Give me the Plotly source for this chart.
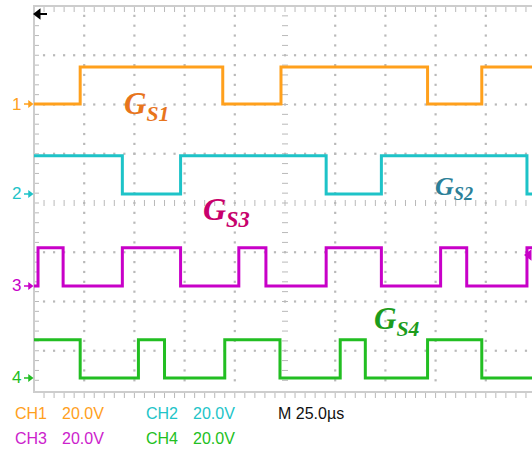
import plotly.graph_objects as go

# Scope settings
US_PER_DIV = 25.0        # horizontal scale, µs per division
V_PER_DIV = 20.0         # vertical scale of every channel, V per division

# Gate signals: edge times (µs from left edge of screen) and the level (V) held after each edge
ch1_t = [0, 23, 94, 123, 196, 223, 250]
ch1_v = [0, 15, 0, 15, 0, 15, 15]
ch2_t = [0, 44, 73, 145.5, 173, 245.5, 250]
ch2_v = [15.5, 0, 15.5, 0, 15.5, 0, 0]
ch3_t = [0, 2, 14.5, 44, 73, 102, 115.5, 145.5, 173, 202.5, 215.5, 245.5, 250]
ch3_v = [0, 15.5, 0, 15.5, 0, 15.5, 0, 15.5, 0, 15.5, 0, 15.5, 15.5]
ch4_t = [0, 23, 52, 65, 95, 122.5, 152.5, 165, 196, 223, 250]
ch4_v = [15.5, 0, 15.5, 0, 15.5, 0, 15.5, 0, 15.5, 0, 0]

# Ground reference position of each channel, in divisions from screen centre
offset_div = [2.01, 0.183, -1.685, -3.553]

channel_names = ["CH1", "CH2", "CH3", "CH4"]
channel_scale = ["20.0V", "20.0V", "20.0V", "20.0V"]
timebase_label = "M 25.0µs"
gate_labels = ["G<sub>S1</sub>", "G<sub>S2</sub>", "G<sub>S3</sub>", "G<sub>S4</sub>"]

trace_colors = ["#FFA01C", "#1EC3C8", "#C800C8", "#22BE22"]
text_colors = ["#FFA01C", "#22C4C8", "#CC22CC", "#22C022"]
gate_colors = ["#E8751C", "#2B7F98", "#C8006C", "#1C9C1C"]

# Screen geometry (pixels)
W, H = 532, 456
X0, DX = 34.0, 50.2      # left edge of graticule, px per division
Y_TOP, DY = 6.0, 49.25   # top edge of graticule, px per division
Y_CEN = Y_TOP + 4 * DY
Y_BOT = 392.0


def xd(px):
    return (px - X0) / DX * US_PER_DIV


def yd(py):
    return (Y_CEN - py) / DY


fig = go.Figure()

GRID = "#B9B9B9"
BORDER = "#CDCDCD"

# dotted graticule
dx, dy = [], []
for k in range(1, 10):
    if k == 5:
        continue
    px = X0 + k * DX
    j = 1
    while Y_TOP + j * DY / 5 < Y_BOT - 2:
        dx.append(xd(px)); dy.append(yd(Y_TOP + j * DY / 5)); j += 1
for r in range(1, 8):
    if r == 4:
        continue
    py = Y_TOP + r * DY
    i = 1
    while X0 + i * DX / 5 < W:
        dx.append(xd(X0 + i * DX / 5)); dy.append(yd(py)); i += 1
fig.add_trace(go.Scatter(x=dx, y=dy, mode="markers",
                         marker=dict(size=2.2, color=GRID, symbol="square"),
                         hoverinfo="skip", showlegend=False))

# centre cross minor ticks and border ticks
tx, ty = [], []
cx = X0 + 5 * DX
j = 1
while Y_TOP + j * DY / 5 < Y_BOT - 2:
    py = Y_TOP + j * DY / 5
    tx += [xd(cx - 3), xd(cx + 3), None]; ty += [yd(py), yd(py), None]
    tx += [xd(X0), xd(X0 + 5), None]; ty += [yd(py), yd(py), None]
    j += 1
i = 1
while X0 + i * DX / 5 < W:
    px = X0 + i * DX / 5
    tx += [xd(px), xd(px), None]; ty += [yd(Y_CEN - 3), yd(Y_CEN + 3), None]
    tx += [xd(px), xd(px), None]; ty += [yd(Y_TOP), yd(Y_TOP + 6), None]
    tx += [xd(px), xd(px), None]; ty += [yd(Y_BOT), yd(Y_BOT + 6), None]
    i += 1
fig.add_trace(go.Scatter(x=tx, y=ty, mode="lines", line=dict(color=GRID, width=1),
                         hoverinfo="skip", showlegend=False))

# graticule border
fig.add_trace(go.Scatter(
    x=[xd(W), xd(X0), xd(X0), xd(W)],
    y=[yd(Y_TOP), yd(Y_TOP), yd(Y_BOT), yd(Y_BOT)],
    mode="lines", line=dict(color=BORDER, width=2),
    hoverinfo="skip", showlegend=False))

# channel waveforms
for t, v, off, col in zip([ch1_t, ch2_t, ch3_t, ch4_t],
                          [ch1_v, ch2_v, ch3_v, ch4_v],
                          offset_div, trace_colors):
    fig.add_trace(go.Scatter(
        x=t, y=[off + val / V_PER_DIV for val in v], mode="lines",
        line=dict(color=col, width=3, shape="hv"),
        hoverinfo="skip", showlegend=False))

# ground markers on the left edge
for n, (off, col) in enumerate(zip(offset_div, trace_colors)):
    fig.add_trace(go.Scatter(
        x=[xd(24), xd(31)], y=[off, off], mode="lines",
        line=dict(color=col, width=1.5), hoverinfo="skip", showlegend=False))
    fig.add_trace(go.Scatter(
        x=[xd(30)], y=[off], mode="markers",
        marker=dict(symbol="triangle-right", size=7, color=col),
        hoverinfo="skip", showlegend=False))
    fig.add_annotation(x=xd(23), y=off, xref="x", yref="y", text=str(n + 1),
                       showarrow=False, xanchor="right", yanchor="middle",
                       font=dict(family="Liberation Sans", size=17, color=col))

# trigger position (top) and trigger level (right edge)
fig.add_trace(go.Scatter(
    x=[xd(38), xd(47)], y=[yd(14), yd(14)], mode="lines",
    line=dict(color="black", width=2), hoverinfo="skip", showlegend=False))
fig.add_trace(go.Scatter(
    x=[xd(38)], y=[yd(14)], mode="markers",
    marker=dict(symbol="triangle-left", size=10, color="black"),
    hoverinfo="skip", showlegend=False))
fig.add_trace(go.Scatter(
    x=[xd(529)], y=[yd(255)], mode="markers",
    marker=dict(symbol="triangle-left", size=10, color=trace_colors[2]),
    hoverinfo="skip", showlegend=False))

# gate signal labels
gate_pos = [(122, 106, 31), (433, 188, 26), (201, 211, 32), (372, 321, 31)]
for lab, col, (px, py, fs) in zip(gate_labels, gate_colors, gate_pos):
    fig.add_annotation(x=px / W, y=1 - py / H, xref="paper", yref="paper",
                       text=lab, showarrow=False,
                       xanchor="left", yanchor="middle",
                       font=dict(family="Liberation Serif", size=fs, color=col,
                                 weight="bold", style="italic"))

# channel readout
readout = [(13, 413, 0), (144, 413, 1), (13, 438, 2), (144, 438, 3)]
for px, py, c in readout:
    fig.add_annotation(x=px / W, y=1 - py / H, xref="paper", yref="paper",
                       text=channel_names[c], showarrow=False,
                       xanchor="left", yanchor="middle",
                       font=dict(family="Liberation Sans", size=16, color=text_colors[c]))
    fig.add_annotation(x=(px + 47) / W, y=1 - py / H, xref="paper", yref="paper",
                       text=channel_scale[c], showarrow=False,
                       xanchor="left", yanchor="middle",
                       font=dict(family="Liberation Sans", size=16, color=text_colors[c]))
fig.add_annotation(x=276 / W, y=1 - 413 / H, xref="paper", yref="paper",
                   text=timebase_label, showarrow=False,
                   xanchor="left", yanchor="middle",
                   font=dict(family="Liberation Sans", size=16, color="#111111"))

fig.update_layout(
    width=W, height=H,
    margin=dict(l=0, r=0, t=0, b=0),
    paper_bgcolor="white", plot_bgcolor="white",
    xaxis=dict(range=[xd(0), xd(W)], visible=False, fixedrange=True),
    yaxis=dict(range=[yd(H), yd(0)], visible=False, fixedrange=True),
    showlegend=False,
)

fig.write_html("out.html")
